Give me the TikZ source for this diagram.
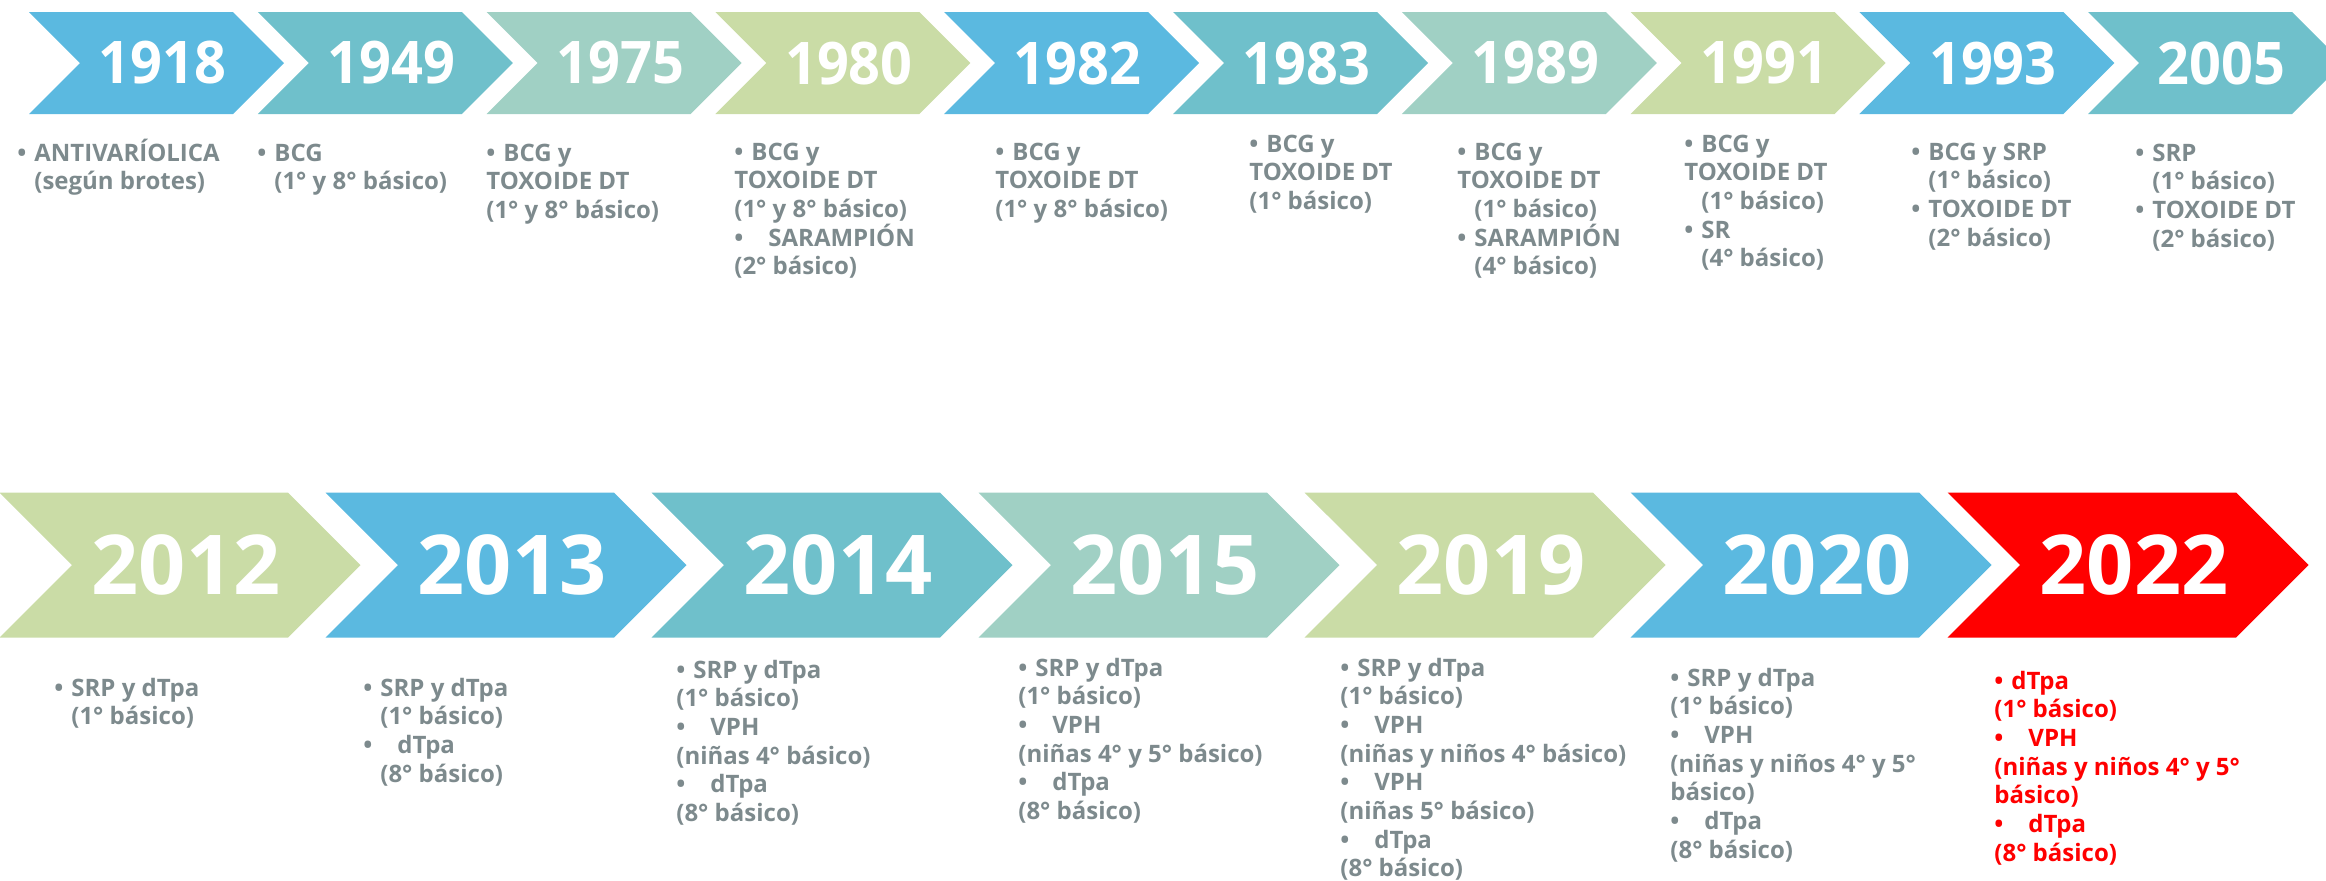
\documentclass[tikz,border=0pt]{standalone}
\usepackage{fontspec}
\setmainfont{Open Sans}
\newfontfamily\yearfont{Open Sans}[FakeStretch=0.95]
\usetikzlibrary{shapes.symbols}
\definecolor{cblue}{RGB}{91,185,224}
\definecolor{cteal}{RGB}{111,192,203}
\definecolor{cmint}{RGB}{160,208,196}
\definecolor{cgreen}{RGB}{202,220,166}
\definecolor{cred}{RGB}{255,0,0}
\definecolor{txtgray}{RGB}{125,138,141}
\newcommand{\bul}{\makebox[8.5pt][l]{•}}
\newcommand{\bulw}{\makebox[17pt][l]{•}}
\newcommand{\ind}{\hspace*{8.5pt}}

\begin{document}
\begin{tikzpicture}[x=0.5pt, y=-0.5pt,
    chev/.style={signal, signal to=east, signal from=west, signal pointer angle=90, inner sep=0pt, draw=none, text=white, minimum width=127.5pt, minimum height=51pt, execute at begin node={\hspace*{6pt}}, font=\yearfont\bfseries\fontsize{29.4}{30}\selectfont},
    bigchev/.style={chev, minimum width=180.5pt, minimum height=72.5pt, font=\bfseries\fontsize{41.3}{42}\selectfont},
    note/.style={anchor=base west, align=left, inner sep=0pt, text=txtgray, font=\bfseries\fontsize{12}{14.35}\selectfont}]
    \clip (0,0) rectangle (2326,880);

    \node at (156.5,63) [chev, fill=cblue] (y1918) {1918};
    \node at (385.3,63) [chev, fill=cteal] (y1949) {1949};
    \node at (614.1,63) [chev, fill=cmint] (y1975) {1975};
    \node at (842.9,63) [chev, fill=cgreen] (y1980) {1980};
    \node at (1071.7,63) [chev, fill=cblue] (y1982) {1982};
    \node at (1300.5,63) [chev, fill=cteal] (y1983) {1983};
    \node at (1529.3,63) [chev, fill=cmint] (y1989) {1989};
    \node at (1758.1,63) [chev, fill=cgreen] (y1991) {1991};
    \node at (1986.9,63) [chev, fill=cblue] (y1993) {1993};
    \node at (2215.7,63) [chev, fill=cteal] (y2005) {2005};

    % anchor base = last line of each block
    \node at (17,189.7) [note] (t1918) {\bul ANTIVARÍOLICA\\ \ind(según brotes)};
    \node at (257,189.7) [note] (t1949) {\bul BCG\\ \ind(1° y 8° básico)};
    \node at (486,218.4) [note] (t1975) {\bul BCG y\\ TOXOIDE DT\\ (1° y 8° básico)};
    \node at (734,274.8) [note] (t1980) {\bul BCG y\\ TOXOIDE DT\\ (1° y 8° básico)\\ \bulw SARAMPIÓN\\ (2° básico)};
    \node at (995,217.4) [note] (t1982) {\bul BCG y\\ TOXOIDE DT\\ (1° y 8° básico)};
    \node at (1249,209.4) [note] (t1983) {\bul BCG y\\ TOXOIDE DT\\ (1° básico)};
    \node at (1457,274.8) [note] (t1989) {\bul BCG y\\ TOXOIDE DT\\ \ind(1° básico)\\ \bul SARAMPIÓN\\ \ind(4° básico)};
    \node at (1684,266.8) [note] (t1991) {\bul BCG y\\ TOXOIDE DT\\ \ind(1° básico)\\ \bul SR\\ \ind(4° básico)};
    \node at (1911,246.1) [note] (t1993) {\bul BCG y SRP\\ \ind(1° básico)\\ \bul TOXOIDE DT\\ \ind(2° básico)};
    \node at (2135,247.1) [note] (t2005) {\bul SRP\\ \ind(1° básico)\\ \bul TOXOIDE DT\\ \ind(2° básico)};

    \node at (180,565) [bigchev, fill=cgreen] (y2012) {2012};
    \node at (506,565) [bigchev, fill=cblue] (y2013) {2013};
    \node at (832,565) [bigchev, fill=cteal] (y2014) {2014};
    \node at (1159,565) [bigchev, fill=cmint] (y2015) {2015};
    \node at (1485,565) [bigchev, fill=cgreen] (y2019) {2019};
    \node at (1811,565) [bigchev, fill=cblue] (y2020) {2020};
    \node at (2128,565) [bigchev, fill=cred] (y2022) {2022};

    \node at (54,724.7) [note] (t2012) {\bul SRP y dTpa\\ \ind(1° básico)};
    \node at (363,782.1) [note] (t2013) {\bul SRP y dTpa\\ \ind(1° básico)\\ \bulw dTpa\\ \ind(8° básico)};
    \node at (676,821.5) [note] (t2014) {\bul SRP y dTpa\\ (1° básico)\\ \bulw VPH\\ (niñas 4° básico)\\ \bulw dTpa\\ (8° básico)};
    \node at (1018,819.5) [note] (t2015) {\bul SRP y dTpa\\ (1° básico)\\ \bulw VPH\\ (niñas 4° y 5° básico)\\ \bulw dTpa\\ (8° básico)};
    \node at (1340,876.9) [note] (t2019) {\bul SRP y dTpa\\ (1° básico)\\ \bulw VPH\\ (niñas y niños 4° básico)\\ \bulw VPH\\ (niñas 5° básico)\\ \bulw dTpa\\ (8° básico)};
    \node at (1670,858.2) [note] (t2020) {\bul SRP y dTpa\\ (1° básico)\\ \bulw VPH\\ (niñas y niños 4° y 5°\\ básico)\\ \bulw dTpa\\ (8° básico)};
    \node at (1994,861.2) [note, text=cred] (t2022) {\bul dTpa\\ (1° básico)\\ \bulw VPH\\ (niñas y niños 4° y 5°\\ básico)\\ \bulw dTpa\\ (8° básico)};
\end{tikzpicture}
\end{document}
